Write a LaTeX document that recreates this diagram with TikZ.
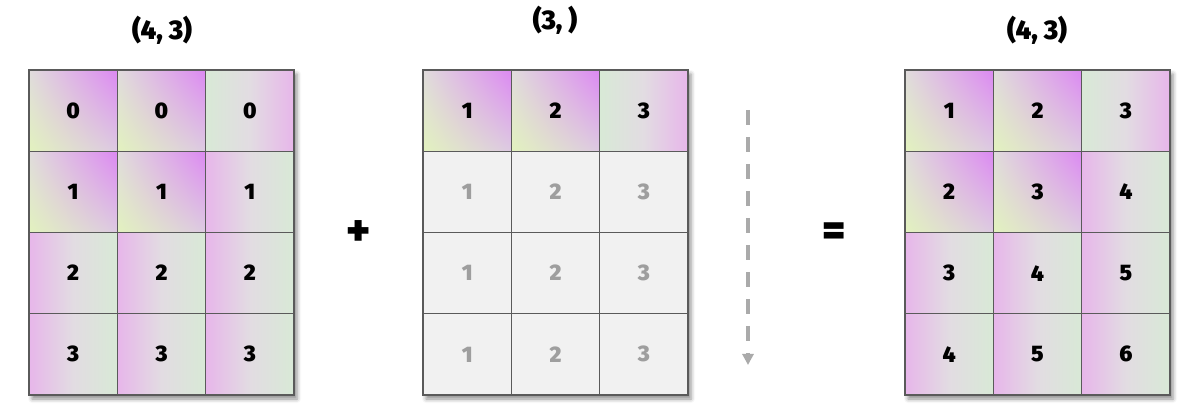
\documentclass[tikz,border=0pt]{standalone}
\usepackage{fontspec}
\newfontfamily\hfont{Fira Sans Black}
\usetikzlibrary{shadings,shadows.blur,arrows.meta}
\definecolor{cY}{HTML}{E2F2BE}
\definecolor{cM}{HTML}{DC88F2}
\definecolor{cTL}{HTML}{E0DCDC}
\definecolor{cBR}{HTML}{DDCAE2}
\definecolor{hG}{HTML}{D8E9D6}
\definecolor{hP}{HTML}{E7B6EA}
\definecolor{hMid}{HTML}{E2DCE2}
\definecolor{border}{HTML}{5A5A5A}
\definecolor{cellgray}{HTML}{F1F1F1}
\definecolor{graytext}{HTML}{9E9E9E}
\definecolor{arrowgray}{HTML}{AAAAAA}
\tikzset{
  cell/.style={draw=border, line width=1.3pt, minimum width=88.33pt, minimum height=81.25pt,
    inner sep=0pt, font=\hfont\fontsize{22.5}{22.5}\selectfont},
  diag/.style={cell, lower left=cY, upper right=cM, upper left=cTL, lower right=cBR},
  hgp/.style={cell, left color=hG, right color=hP, middle color=hMid},
  hpg/.style={cell, left color=hP, right color=hG, middle color=hMid},
  grey/.style={cell, fill=cellgray, text=graytext},
  title/.style={font=\hfont\fontsize{27}{27}\selectfont},
  op/.style={font=\hfont\fontsize{44}{44}\selectfont},
  mshadow/.style={fill=white, blur shadow={shadow xshift=3pt, shadow yshift=-4pt, shadow blur radius=4pt, shadow opacity=45}}
}
\begin{document}
\begin{tikzpicture}[x=1pt,y=-1pt]
\useasboundingbox (0,0) rectangle (1200,411);
% shadows
\fill[mshadow] (29,70) rectangle (294,395);
\fill[mshadow] (423,70) rectangle (688,395);
\fill[mshadow] (905,70) rectangle (1170,395);
% titles
\node[title] (tA) at (162,30) {(4, 3)};
\node[title] (tB) at (555,20) {(3, )};
\node[title] (tC) at (1037,30) {(4, 3)};
% left matrix
\foreach \r/\y in {0/110.625,1/191.875,2/273.125,3/354.375}{
  \foreach \c/\x in {0/73.17,1/161.5,2/249.83}{
    \pgfmathtruncatemacro{\k}{\r*3+\c}
    \ifcase\k
      \node[diag] (A-\r-\c) at (\x,\y) {0};
    \or \node[diag] (A-\r-\c) at (\x,\y) {0};
    \or \node[hgp] (A-\r-\c) at (\x,\y) {0};
    \or \node[diag] (A-\r-\c) at (\x,\y) {1};
    \or \node[diag] (A-\r-\c) at (\x,\y) {1};
    \or \node[hpg] (A-\r-\c) at (\x,\y) {1};
    \else \node[hpg] (A-\r-\c) at (\x,\y) {\r};
    \fi
  }
}
% middle matrix
\node[diag] (B-0-0) at (467.17,110.625) {1};
\node[diag] (B-0-1) at (555.5,110.625) {2};
\node[hgp]  (B-0-2) at (643.83,110.625) {3};
\foreach \r/\y in {1/191.875,2/273.125,3/354.375}{
  \node[grey] (B-\r-0) at (467.17,\y) {1};
  \node[grey] (B-\r-1) at (555.5,\y) {2};
  \node[grey] (B-\r-2) at (643.83,\y) {3};
}
% right matrix
\node[diag] (C-0-0) at (949.17,110.625) {1};
\node[diag] (C-0-1) at (1037.5,110.625) {2};
\node[hgp]  (C-0-2) at (1125.83,110.625) {3};
\node[diag] (C-1-0) at (949.17,191.875) {2};
\node[diag] (C-1-1) at (1037.5,191.875) {3};
\node[hpg]  (C-1-2) at (1125.83,191.875) {4};
\node[hpg]  (C-2-0) at (949.17,273.125) {3};
\node[hpg]  (C-2-1) at (1037.5,273.125) {4};
\node[hpg]  (C-2-2) at (1125.83,273.125) {5};
\node[hpg]  (C-3-0) at (949.17,354.375) {4};
\node[hpg]  (C-3-1) at (1037.5,354.375) {5};
\node[hpg]  (C-3-2) at (1125.83,354.375) {6};
% operators
\node[op] (plus) at (359,233) {+};
\node[op] (eq) at (834,234) {=};
% broadcast arrow
\coordinate (aS) at (748,110);
\coordinate (aE) at (748,365);
\draw[arrowgray, line width=4pt, dash pattern=on 15pt off 12pt, -{Triangle[width=11pt,length=11pt]}] (aS) -- (aE);
\end{tikzpicture}
\end{document}
